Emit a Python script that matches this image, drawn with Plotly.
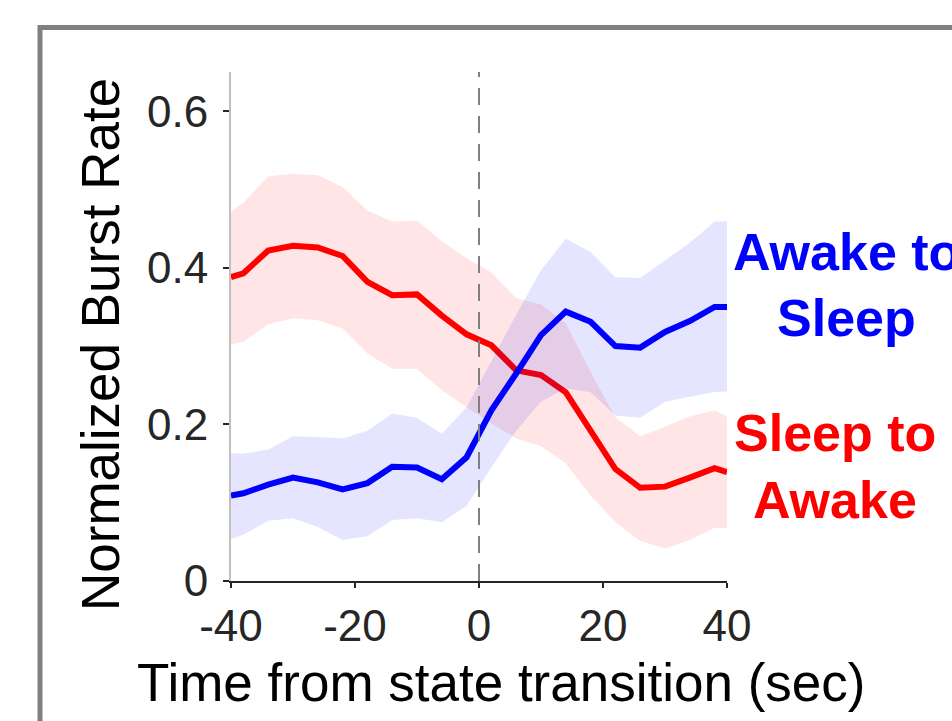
import plotly.graph_objects as go

# ---- data ----
time_s = [-40, -38, -34, -30, -26, -22, -18, -14, -10, -6, -2, 2, 6, 10, 14, 18, 22, 26, 30, 34, 38, 40]

sleep_to_awake = [0.388, 0.393, 0.422, 0.428, 0.426, 0.415, 0.382, 0.365, 0.366, 0.339, 0.315,
                  0.301, 0.269, 0.263, 0.241, 0.192, 0.143, 0.119, 0.1205, 0.132, 0.144, 0.139]
sleep_to_awake_hi = [0.472, 0.483, 0.517, 0.520, 0.518, 0.503, 0.473, 0.459, 0.460, 0.434, 0.412,
                     0.394, 0.361, 0.353, 0.329, 0.267, 0.209, 0.185, 0.197, 0.210, 0.218, 0.210]
sleep_to_awake_lo = [0.302, 0.3055, 0.328, 0.3355, 0.333, 0.3226, 0.2906, 0.271, 0.271, 0.244, 0.222,
                     0.201, 0.182, 0.172, 0.150, 0.109, 0.075, 0.051, 0.0415, 0.052, 0.068, 0.0675]

awake_to_sleep = [0.109, 0.112, 0.123, 0.132, 0.126, 0.117, 0.125, 0.146, 0.145, 0.130, 0.158,
                  0.218, 0.265, 0.314, 0.344, 0.331, 0.300, 0.298, 0.318, 0.332, 0.350, 0.350]
awake_to_sleep_hi = [0.163, 0.1625, 0.168, 0.185, 0.184, 0.182, 0.192, 0.214, 0.2085, 0.188, 0.222,
                     0.282, 0.340, 0.397, 0.437, 0.420, 0.388, 0.387, 0.409, 0.432, 0.459, 0.459]
awake_to_sleep_lo = [0.0535, 0.059, 0.077, 0.080, 0.069, 0.0525, 0.057, 0.078, 0.080, 0.075, 0.096,
                     0.145, 0.192, 0.229, 0.246, 0.241, 0.2115, 0.2085, 0.229, 0.235, 0.2415, 0.242]

x_ticks = [-40, -20, 0, 20, 40]
y_ticks = [0, 0.2, 0.4, 0.6]
y_tick_text = ["0", "0.2", "0.4", "0.6"]

RED = "#ff0000"
BLUE = "#0000ff"
FONT = "Liberation Sans, Arial, Helvetica, sans-serif"

# plot area in pixels
L, R, T, B = 231, 727, 72, 581
W_PX, H_PX = R - L, B - T


def px(x):
    return (x - L) / W_PX


def py(y):
    return (B - y) / H_PX


fig = go.Figure()

# red band + line
fig.add_trace(go.Scatter(x=time_s, y=sleep_to_awake_hi, mode="lines", line=dict(width=0),
                         hoverinfo="skip", showlegend=False))
fig.add_trace(go.Scatter(x=time_s, y=sleep_to_awake_lo, mode="lines", line=dict(width=0),
                         fill="tonexty", fillcolor="rgba(255,0,0,0.10)", hoverinfo="skip", showlegend=False))
fig.add_trace(go.Scatter(x=time_s, y=sleep_to_awake, mode="lines", line=dict(color=RED, width=6),
                         name="Sleep to Awake", showlegend=False))
# blue band + line
fig.add_trace(go.Scatter(x=time_s, y=awake_to_sleep_hi, mode="lines", line=dict(width=0),
                         hoverinfo="skip", showlegend=False))
fig.add_trace(go.Scatter(x=time_s, y=awake_to_sleep_lo, mode="lines", line=dict(width=0),
                         fill="tonexty", fillcolor="rgba(0,0,255,0.10)", hoverinfo="skip", showlegend=False))
fig.add_trace(go.Scatter(x=time_s, y=awake_to_sleep, mode="lines", line=dict(color=BLUE, width=6),
                         name="Awake to Sleep", showlegend=False))

# dashed transition line
fig.add_shape(type="line", xref="x", yref="paper", x0=0, x1=0, y0=0, y1=1,
              line=dict(color="#808080", width=2, dash="17px,11px"), layer="above")

# outer gray frame
fig.add_shape(type="rect", xref="paper", yref="paper",
              x0=px(40), x1=px(1200), y0=py(1000), y1=py(27.5),
              line=dict(color="#808080", width=5), layer="above")

annotations = [
    dict(text="Awake to", x=px(846), y=py(252), font=dict(size=52, color=BLUE, family=FONT),
         xanchor="center", yanchor="middle"),
    dict(text="Sleep", x=px(846), y=py(318), font=dict(size=52, color=BLUE, family=FONT),
         xanchor="center", yanchor="middle"),
    dict(text="Sleep to", x=px(835), y=py(433), font=dict(size=52, color=RED, family=FONT),
         xanchor="center", yanchor="middle"),
    dict(text="Awake", x=px(835), y=py(500), font=dict(size=52, color=RED, family=FONT),
         xanchor="center", yanchor="middle"),
    dict(text="Time from state transition (sec)", x=px(501), y=py(682),
         font=dict(size=53, color="#000000", family=FONT), xanchor="center", yanchor="middle"),
    dict(text="Normalized Burst Rate", x=px(100), y=py(345), textangle=-90,
         font=dict(size=53, color="#000000", family=FONT), xanchor="center", yanchor="middle"),
]
for a in annotations:
    a.update(xref="paper", yref="paper", showarrow=False)
    if a["font"]["color"] in (RED, BLUE):
        a["text"] = "<b>" + a["text"] + "</b>"

fig.update_layout(
    width=952, height=721,
    margin=dict(l=L, r=952 - R, t=T, b=721 - B),
    paper_bgcolor="white", plot_bgcolor="white",
    showlegend=False,
    annotations=annotations,
    xaxis=dict(range=[-40, 40], tickvals=x_ticks, ticktext=[str(v) for v in x_ticks],
               showgrid=False, zeroline=False, showline=True, linecolor="#262626", linewidth=1.5,
               ticks="outside", ticklen=5, tickwidth=1.5, tickcolor="#262626",
               tickfont=dict(size=44, color="#262626", family=FONT)),
    yaxis=dict(range=[0, 0.65], tickvals=y_ticks, ticktext=y_tick_text,
               showgrid=False, zeroline=False, showline=True, linecolor="#c0c0c0", linewidth=2,
               ticks="outside", ticklen=6, tickwidth=1.5, tickcolor="#262626", ticklabelstandoff=6,
               tickfont=dict(size=44, color="#262626", family=FONT)),
)

fig.write_html("out.html")
